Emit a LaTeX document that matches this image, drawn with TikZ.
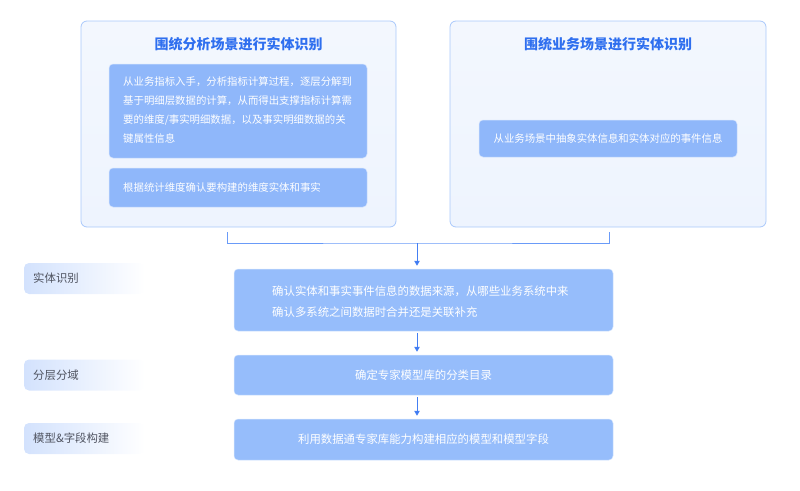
\documentclass[tikz,border=0pt]{standalone}
\usepackage{fontspec}
\setmainfont{Noto Sans CJK SC}
\usetikzlibrary{arrows.meta}
\definecolor{outerfill}{HTML}{EEF4FE}
\definecolor{outerdraw}{HTML}{A9C8FB}
\definecolor{innerfill}{HTML}{8FB7FA}
\definecolor{mainfill}{HTML}{96BDFB}
\definecolor{titleblue}{HTML}{2F6FEF}
\definecolor{linkblue}{HTML}{6A9BF8}
\definecolor{tipblue}{HTML}{3B78F2}
\definecolor{labelfill}{HTML}{D3E2FD}
\definecolor{labeltext}{HTML}{4F5360}
\tikzset{
  outerbox/.style={draw=outerdraw, line width=0.8pt, top color=outerfill!70!white, bottom color=outerfill, rounded corners=6pt, minimum width=315pt, minimum height=206pt, inner sep=0pt},
  titletext/.style={font=\fontsize{14}{16}\selectfont\bfseries, text=titleblue, inner sep=0pt},
  innerbox/.style={fill=innerfill, draw=white!60!innerfill, line width=0.5pt, rounded corners=4pt, minimum width=258pt, inner sep=0pt},
  smalltext/.style={font=\fontsize{10.4}{19}\selectfont, text=white, inner sep=0pt},
  mainbox/.style={fill=mainfill, draw=white!60!mainfill, line width=0.5pt, rounded corners=4pt, minimum width=379pt, inner sep=0pt},
  maintext/.style={font=\fontsize{11.4}{21}\selectfont, text=white, inner sep=0pt},
  labelbox/.style={left color=labelfill, right color=white, rounded corners=5pt, minimum width=121pt, minimum height=31pt, inner sep=0pt},
  labeltxt/.style={font=\fontsize{11.4}{14}\selectfont, text=labeltext, inner sep=0pt, anchor=west},
  link/.style={draw=linkblue, line width=1pt},
  arrowlink/.style={draw=tipblue!80!linkblue, line width=0.9pt, -{Triangle[length=5pt,width=5.5pt,fill=tipblue]}, shorten >=3pt, shorten <=2pt}
}
\begin{document}
\begin{tikzpicture}[x=1pt,y=-1pt]
\useasboundingbox (0,0) rectangle (800,490);
% outer boxes
\node[outerbox] (outL) at (238.5,124) {};
\node[outerbox, minimum width=316pt] (outR) at (608,124) {};
\node[titletext] (titL) at (238.5,44) {围统分析场景进行实体识别};
\node[titletext] (titR) at (608,44) {围统业务场景进行实体识别};
% inner boxes left
\node[innerbox, minimum height=94pt] (inL1) at (238,111) {};
\node[smalltext, anchor=north west, align=left] (tL1) at (123,76.5) {从业务指标入手，分析指标计算过程，逐层分解到\\基于明细层数据的计算，从而得出支撑指标计算需\\要的维度/事实明细数据，以及事实明细数据的关\\键属性信息};
\node[innerbox, minimum height=39pt] (inL2) at (238,187.5) {};
\node[smalltext, anchor=west] (tL2) at (123,187.5) {根据统计维度确认要构建的维度实体和事实};
% inner box right
\node[innerbox, minimum height=37pt] (inR) at (608,138.5) {};
\node[smalltext] (tR) at (608,138.5) {从业务场景中抽象实体信息和实体对应的事件信息};
% bracket
\coordinate (bl) at (227,232);
\coordinate (br) at (609,232);
\coordinate (jn) at (417,243);
\draw[link] (bl) |- (jn) -| (br);
% main boxes
\node[mainbox, minimum height=62pt] (m1) at (423.5,300) {};
\node[maintext, anchor=west, align=left] (tm1) at (272,301.5) {确认实体和事实事件信息的数据来源，从哪些业务系统中来\\确认多系统之间数据时合并还是关联补充};
\node[mainbox, minimum height=40pt] (m2) at (423.5,375) {};
\node[maintext] (tm2) at (423.5,375) {确定专家模型库的分类目录};
\node[mainbox, minimum height=41pt] (m3) at (423.5,439.5) {};
\node[maintext] (tm3) at (423.5,439.5) {利用数据通专家库能力构建相应的模型和模型字段};
% arrows
\draw[arrowlink, shorten <=0pt] (jn) -- (jn |- m1.north);
\draw[arrowlink] (jn |- m1.south) -- (jn |- m2.north);
\draw[arrowlink] (jn |- m2.south) -- (jn |- m3.north);
% left labels
\node[labelbox] (lb1) at (84.5,278.5) {};
\node[labeltxt] at (33,278.5) {实体识别};
\node[labelbox] (lb2) at (84.5,375) {};
\node[labeltxt] at (33,375) {分层分域};
\node[labelbox] (lb3) at (84.5,438.5) {};
\node[labeltxt] at (33,438.5) {模型\&字段构建};
\end{tikzpicture}
\end{document}
